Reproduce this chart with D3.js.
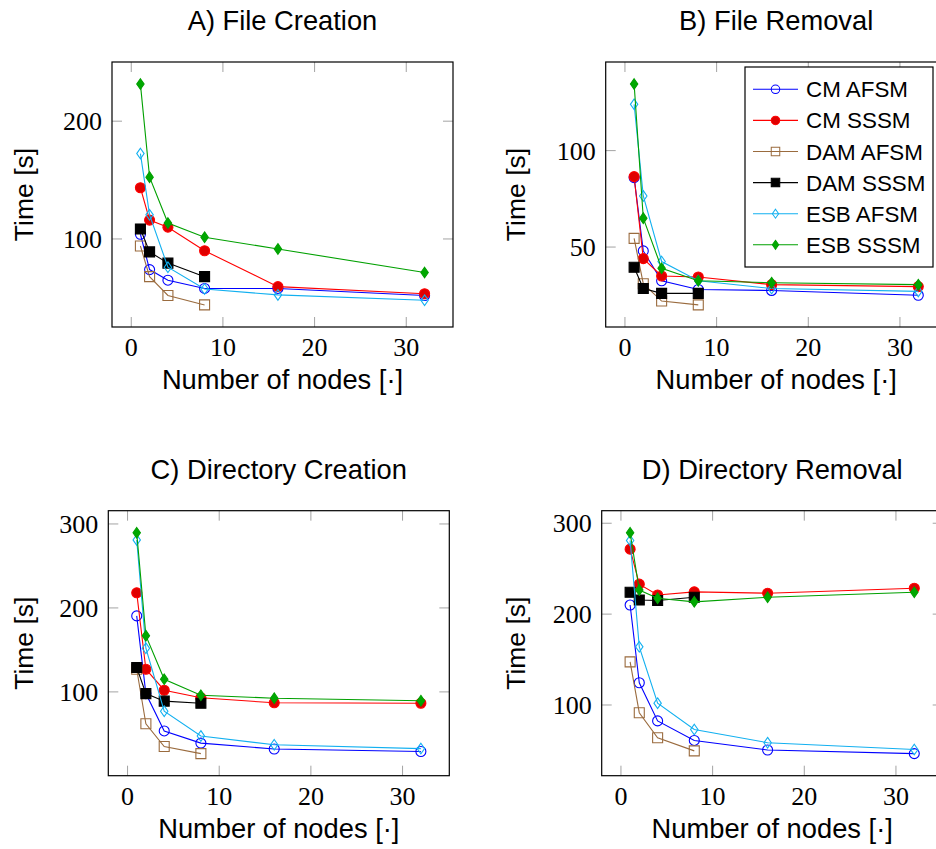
<!DOCTYPE html>
<html>
<head>
<meta charset="utf-8">
<script src="https://cdn.jsdelivr.net/npm/d3@7"></script>
<style>
  html, body { margin: 0; padding: 0; background: #fff; }
  svg { display: block; }
</style>
</head>
<body>
<svg id="chart" width="936" height="849"></svg>
<script>
// node counts on the x axis
var nodes = [1, 2, 4, 8, 16, 32];
var seriesNames = ["CM AFSM", "CM SSSM", "DAM AFSM", "DAM SSSM", "ESB AFSM", "ESB SSSM"];
var xTicks = [0, 10, 20, 30];

// times [s], one row per series (same order as seriesNames); DAM stops at 8 nodes
var fileCreation = [
  [104, 74, 65, 58, 58, 52],
  [143.5, 116, 110, 90, 59.5, 53.5],
  [94, 68, 52, 44],
  [108.5, 89, 79.5, 68],
  [172.5, 120.5, 76, 57.5, 52.5, 48],
  [231.5, 152.5, 113.5, 101.5, 91.5, 71.5]
];
var fileRemoval = [
  [86, 48, 32.5, 28, 27.5, 25],
  [86.5, 44, 35, 34.5, 30.5, 29.5],
  [54.5, 31, 22, 20],
  [39.5, 28.5, 26, 26],
  [124, 76.5, 42.5, 32.5, 28.5, 27],
  [134.5, 65, 39, 32.5, 31.5, 30.5]
];
var dirCreation = [
  [190.5, 98, 53.5, 39, 32, 29],
  [218, 127, 102, 93, 87, 86.5],
  [127, 62, 35, 26.5],
  [129, 98, 89, 86.5],
  [281, 152, 77, 47.5, 37, 32.5],
  [289.5, 167, 115, 96, 92.5, 89.5]
];
var dirRemoval = [
  [210, 124.5, 82.5, 61, 50.5, 46.5],
  [271.5, 233, 221, 224.5, 223, 228.5],
  [147.5, 91.5, 64, 49.5],
  [224, 215.5, 215, 218.5],
  [281, 164, 102, 73, 58.5, 51],
  [289.5, 226.5, 217.5, 213.5, 218.5, 224]
];

var panelTitles = ["A) File Creation", "B) File Removal", "C) Directory Creation", "D) Directory Removal"];
var yTicksA = [100, 200];
var yTicksB = [50, 100];
var yTicksC = [100, 200, 300];
var yTicksD = [100, 200, 300];

// ---- styling ----
var styles = [
  {color: "#0000ff", mark: "circle", fill: "none"},
  {color: "#ff0000", mark: "circle", fill: "#e00000"},
  {color: "#9a6b3e", mark: "square", fill: "none"},
  {color: "#000000", mark: "square", fill: "#000000"},
  {color: "#12b0f0", mark: "diamond", fill: "none"},
  {color: "#00a000", mark: "diamond", fill: "#00a800"}
];

var panels = [
  {title: panelTitles[0], data: fileCreation, yTicks: yTicksA, left: 112, top: 62, legend: false},
  {title: panelTitles[1], data: fileRemoval, yTicks: yTicksB, left: 605.7, top: 62, legend: true},
  {title: panelTitles[2], data: dirCreation, yTicks: yTicksC, left: 108.3, top: 510.7, legend: false},
  {title: panelTitles[3], data: dirRemoval, yTicks: yTicksD, left: 601.7, top: 510.7, legend: false}
];
var W = 341, H = 265;
var sans = "'Liberation Sans', Arial, Helvetica, sans-serif";
var serif = "'Liberation Serif', 'Times New Roman', serif";

var svg = d3.select("#chart");

function markPath(type) {
  if (type == "circle") return d3.symbol().type(d3.symbolCircle).size(Math.PI * 25)();
  if (type == "square") return "M-5,-5H5V5H-5Z";
  return "M0,-5.3L3.7,0L0,5.3L-3.7,0Z";
}

// pgfplots-like enlarged limits (10% each side)
function enlarge(ext) {
  var r = ext[1] - ext[0];
  return [ext[0] - 0.1 * r, ext[1] + 0.1 * r];
}

panels.forEach(function(p) {
  var g = svg.append("g").attr("transform", "translate(" + p.left + "," + p.top + ")");

  var all = [];
  p.data.forEach(function(s) { all = all.concat(s); });
  var x = d3.scaleLinear().domain(enlarge(d3.extent(nodes))).range([0, W]);
  var y = d3.scaleLinear().domain(enlarge(d3.extent(all))).range([H, 0]);

  // ticks inside, mirrored on all sides
  var tickCol = "#a3a3a3";
  xTicks.forEach(function(t) {
    g.append("line").attr("x1", x(t)).attr("x2", x(t)).attr("y1", H).attr("y2", H - 10)
      .attr("stroke", tickCol).attr("stroke-width", 1);
    g.append("line").attr("x1", x(t)).attr("x2", x(t)).attr("y1", 0).attr("y2", 10)
      .attr("stroke", tickCol).attr("stroke-width", 1);
    g.append("text").attr("x", x(t)).attr("y", H + 29).attr("text-anchor", "middle")
      .attr("font-family", serif).attr("font-size", 26).text(t);
  });
  p.yTicks.forEach(function(t) {
    g.append("line").attr("x1", 0).attr("x2", 10).attr("y1", y(t)).attr("y2", y(t))
      .attr("stroke", tickCol).attr("stroke-width", 1);
    g.append("line").attr("x1", W).attr("x2", W - 10).attr("y1", y(t)).attr("y2", y(t))
      .attr("stroke", tickCol).attr("stroke-width", 1);
    g.append("text").attr("x", -10).attr("y", y(t) + 9).attr("text-anchor", "end")
      .attr("font-family", serif).attr("font-size", 26).text(t);
  });

  g.append("rect").attr("width", W).attr("height", H)
    .attr("fill", "none").attr("stroke", "#000").attr("stroke-width", 1.2);

  // title and axis labels
  g.append("text").attr("x", W / 2).attr("y", -32).attr("text-anchor", "middle")
    .attr("font-family", sans).attr("font-size", 27.3).text(p.title);
  g.append("text").attr("x", W / 2).attr("y", H + 62).attr("text-anchor", "middle")
    .attr("font-family", sans).attr("font-size", 27.3).text("Number of nodes [·]");
  var ylx = p.left > 400 ? -(p.left - 525) : -(p.left - 33);
  g.append("text").attr("transform", "translate(" + ylx + "," + (H / 2) + ") rotate(-90)")
    .attr("text-anchor", "middle")
    .attr("font-family", sans).attr("font-size", 26.5).text("Time [s]");

  var line = d3.line().x(function(d) { return x(d[0]); }).y(function(d) { return y(d[1]); });

  p.data.forEach(function(vals, i) {
    var st = styles[i];
    var pts = vals.map(function(v, k) { return [nodes[k], v]; });
    var sg = g.append("g");
    sg.append("path").attr("d", line(pts)).attr("fill", "none")
      .attr("stroke", st.color).attr("stroke-width", 1.1);
    sg.selectAll("path.m").data(pts).enter().append("path").attr("class", "m")
      .attr("d", markPath(st.mark))
      .attr("transform", function(d) { return "translate(" + x(d[0]) + "," + y(d[1]) + ")"; })
      .attr("fill", st.fill == "none" ? "none" : st.fill)
      .attr("stroke", st.color).attr("stroke-width", 1.1);
  });

  if (p.legend) {
    var lg = svg.append("g").attr("transform", "translate(745,67)");
    lg.append("rect").attr("width", 188).attr("height", 200)
      .attr("fill", "#fff").attr("stroke", "#000").attr("stroke-width", 1.2);
    seriesNames.forEach(function(name, i) {
      var st = styles[i];
      var cy = 22.3 + i * 31.1;
      lg.append("line").attr("x1", 8).attr("x2", 53).attr("y1", cy).attr("y2", cy)
        .attr("stroke", st.color).attr("stroke-width", 1.1);
      lg.append("path").attr("d", markPath(st.mark))
        .attr("transform", "translate(30.5," + cy + ") scale(0.85)")
        .attr("fill", st.fill).attr("stroke", st.color).attr("stroke-width", 1.2);
      lg.append("text").attr("x", 61).attr("y", cy + 8).attr("font-family", sans)
        .attr("font-size", 22.4).text(name);
    });
  }
});
</script>
</body>
</html>
